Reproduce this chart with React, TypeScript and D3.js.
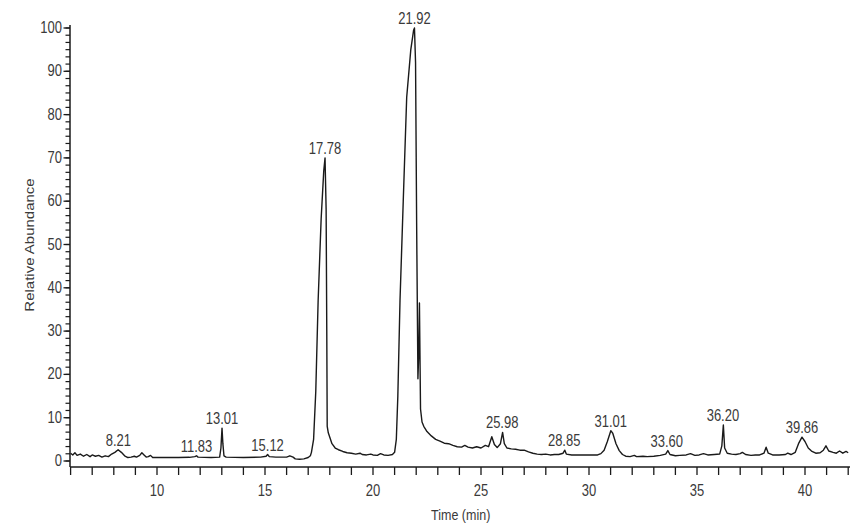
import React from "react";
import * as d3 from "d3";

// Chromatogram trace: retention time (min) and relative abundance (%)
const traceTimes: number[] = [
  6.0, 6.1, 6.2, 6.3, 6.45, 6.6, 6.75, 6.9, 7.0, 7.15, 7.3, 7.45, 7.6, 7.75, 7.9, 8.05, 8.2, 8.35, 8.5, 8.65,
  8.8, 8.95, 9.05, 9.2, 9.3, 9.4, 9.5, 9.6, 9.7, 9.8, 10.0, 10.5, 11.0, 11.5, 11.75, 11.83, 11.9, 12.5, 12.9, 12.96,
  13.01, 13.05, 13.1, 13.2, 14.0, 14.8, 15.05, 15.12, 15.2, 15.5, 16.0, 16.15, 16.3, 16.4, 16.6, 16.8, 17.0, 17.1, 17.15, 17.25,
  17.35, 17.46, 17.6, 17.72, 17.78, 17.83, 17.86, 17.88, 17.93, 18.0, 18.1, 18.25, 18.4, 18.6, 18.8, 19.0, 19.2, 19.4, 19.5, 19.7,
  19.9, 20.0, 20.2, 20.35, 20.5, 20.7, 20.9, 21.0, 21.08, 21.15, 21.25, 21.4, 21.56, 21.75, 21.88, 21.92, 21.97, 22.02, 22.08, 22.12,
  22.15, 22.2, 22.27, 22.35, 22.5, 22.7, 22.9, 23.1, 23.3, 23.5, 23.7, 23.9, 24.1, 24.25, 24.4, 24.6, 24.8, 25.0, 25.2, 25.35,
  25.5, 25.62, 25.75, 25.9, 26.0, 26.08, 26.2, 26.4, 26.6, 26.8, 27.0, 27.2, 27.4, 27.6, 27.8, 28.0, 28.2, 28.4, 28.6, 28.8,
  28.88, 28.95, 29.2, 29.5, 29.8, 30.1, 30.4, 30.55, 30.7, 30.85, 31.01, 31.1, 31.25, 31.4, 31.55, 31.7, 31.9, 32.1, 32.2, 32.5,
  32.7, 33.0, 33.3, 33.55, 33.65, 33.75, 34.0, 34.2, 34.5, 34.7, 34.9, 35.1, 35.3, 35.5, 35.8, 36.05, 36.15, 36.22, 36.28, 36.4,
  36.6, 36.8, 37.0, 37.1, 37.25, 37.5, 37.7, 37.9, 38.1, 38.2, 38.3, 38.5, 38.8, 39.1, 39.2, 39.35, 39.55, 39.7, 39.86, 40.0,
  40.15, 40.3, 40.5, 40.7, 40.85, 40.97, 41.1, 41.3, 41.45, 41.6, 41.75, 41.9, 42.0,
];
const traceValues: number[] = [
  1.8, 1.4, 1.9, 1.3, 1.6, 1.1, 1.5, 1.0, 1.4, 1.1, 1.3, 0.9, 1.2, 1.0, 1.6, 2.0, 2.6, 2.0, 1.2, 0.8,
  0.9, 1.1, 0.9, 1.3, 1.9, 1.4, 0.9, 1.0, 1.3, 0.8, 0.8, 0.8, 0.8, 0.85, 1.0, 1.2, 0.9, 0.8, 0.9, 3.0,
  7.6, 4.0, 1.2, 0.9, 0.8, 0.9, 1.1, 1.5, 1.0, 0.9, 0.9, 1.2, 0.9, 0.5, 0.4, 0.5, 0.8, 1.2, 2.0, 5.0,
  16, 37, 56, 67, 70, 58, 30, 8, 6.5, 5.5, 4.0, 3.0, 2.6, 2.2, 1.9, 1.8, 1.6, 1.8, 1.5, 1.4,
  1.6, 1.4, 1.3, 1.7, 1.4, 1.3, 1.5, 2.0, 5.0, 15, 37, 60, 84, 95, 99.5, 100, 92, 55, 19, 25,
  36.5, 12, 9, 8, 6.8, 5.8, 5.0, 4.6, 4.1, 4.0, 3.6, 3.3, 3.2, 3.6, 3.2, 3.0, 3.3, 3.0, 3.6, 3.3,
  5.6, 3.8, 3.1, 4.0, 6.6, 4.0, 3.0, 2.8, 2.7, 2.5, 2.5, 2.1, 1.8, 1.6, 1.5, 1.6, 1.4, 1.5, 1.5, 1.8,
  2.5, 1.6, 1.4, 1.4, 1.4, 1.4, 1.4, 1.7, 2.5, 4.5, 7.0, 6.4, 4.0, 2.4, 1.5, 1.1, 1.0, 1.3, 1.0, 1.1,
  1.0, 1.1, 1.3, 1.6, 2.4, 1.5, 1.2, 1.3, 1.4, 1.7, 1.3, 1.4, 1.7, 1.4, 1.5, 1.6, 3.5, 8.3, 3.0, 1.8,
  1.6, 1.5, 1.7, 2.0, 1.5, 1.3, 1.4, 1.4, 1.8, 3.2, 1.8, 1.4, 1.4, 1.5, 1.8, 1.5, 2.0, 4.0, 5.5, 4.5,
  3.0, 2.3, 1.8, 1.9, 2.5, 3.5, 2.3, 2.0, 1.8, 2.3, 1.8, 2.2, 1.9,
];

// Labelled peaks
const peakTimes: number[] = [8.21, 11.83, 13.01, 15.12, 17.78, 21.92, 25.98, 28.85, 31.01, 33.6, 36.2, 39.86];
const peakHeights: number[] = [2.6, 1.2, 7.6, 1.5, 70, 100, 6.6, 2.5, 7.0, 2.4, 8.3, 5.5];

// Axis ticks
const xMinorTicks: number[] = d3.range(6, 42.001, 1);
const xLabelTicks: number[] = [10, 15, 20, 25, 30, 35, 40];
const yLabelTicks: number[] = [0, 10, 20, 30, 40, 50, 60, 70, 80, 90, 100];
const yMinorTicks: number[] = d3.range(0, 100.001, 10 / 6);

const xAxisTitle = "Time (min)";
const yAxisTitle = "Relative Abundance";

const FONT = "'Liberation Sans', Arial, sans-serif";
const TEXT = "#3a3a3a";
const LINE = "#1a1a1a";

export default function App() {
  const x = d3.scaleLinear().domain([6, 42]).range([70.6, 848.2]);
  const y = d3.scaleLinear().domain([0, 100]).range([461, 28]);
  const axisY = 467;
  const axisX = 70;

  const pts: [number, number][] = traceTimes.map((t, i) => [t, traceValues[i]]);
  const line = d3
    .line<[number, number]>()
    .x((d) => x(d[0]))
    .y((d) => y(d[1]));

  const stretch = "scale(1,1.2)";

  return (
    <svg
      width={850}
      height={531}
      style={{ position: "absolute", left: 0, top: 0, background: "#fff" }}
      fontFamily={FONT}
    >
      <rect x={0} y={0} width={850} height={531} fill="#fff" />
      {/* trace */}
      <path d={line(pts) || ""} fill="none" stroke={LINE} strokeWidth={1.4} strokeLinejoin="round" />

      {/* y axis */}
      <line x1={axisX} x2={axisX} y1={25} y2={axisY} stroke={LINE} strokeWidth={1.5} />
      {yMinorTicks.map((v, i) => (
        <line key={"ym" + i} x1={axisX - 4.5} x2={axisX} y1={y(v)} y2={y(v)} stroke={LINE} strokeWidth={1.2} />
      ))}
      {yLabelTicks.map((v) => (
        <g key={"yl" + v}>
          <line x1={axisX - 6.5} x2={axisX} y1={y(v)} y2={y(v)} stroke={LINE} strokeWidth={1.3} />
          <g transform={`translate(${axisX - 8},${y(v) + 5}) ${stretch}`}>
            <text x={0} y={0} textAnchor="end" fontSize={13} fill={TEXT}>
              {v}
            </text>
          </g>
        </g>
      ))}

      {/* x axis */}
      <line x1={axisX} x2={850} y1={axisY} y2={axisY} stroke={LINE} strokeWidth={1.5} />
      {xMinorTicks.map((t, i) => (
        <line key={"xm" + i} x1={x(t)} x2={x(t)} y1={axisY} y2={axisY + 8} stroke={LINE} strokeWidth={1.3} />
      ))}
      {xLabelTicks.map((t) => (
        <g key={"xl" + t} transform={`translate(${x(t)},${496}) ${stretch}`}>
          <text x={0} y={0} textAnchor="middle" fontSize={13} fill={TEXT}>
            {t}
          </text>
        </g>
      ))}

      {/* peak labels */}
      {peakTimes.map((t, i) => (
        <g key={"pk" + i} transform={`translate(${x(t)},${y(peakHeights[i]) - 4}) ${stretch}`}>
          <text x={0} y={0} textAnchor="middle" fontSize={13} fill={TEXT}>
            {t.toFixed(2)}
          </text>
        </g>
      ))}

      {/* axis titles */}
      <g transform={`translate(${x(24.06)},${520}) ${stretch}`}>
        <text x={0} y={0} textAnchor="middle" fontSize={12.5} fill={TEXT}>
          {xAxisTitle}
        </text>
      </g>
      <g transform={`translate(34,245) rotate(-90) scale(1.2,1)`}>
        <text x={0} y={0} textAnchor="middle" fontSize={12.5} fill={TEXT}>
          {yAxisTitle}
        </text>
      </g>
    </svg>
  );
}
